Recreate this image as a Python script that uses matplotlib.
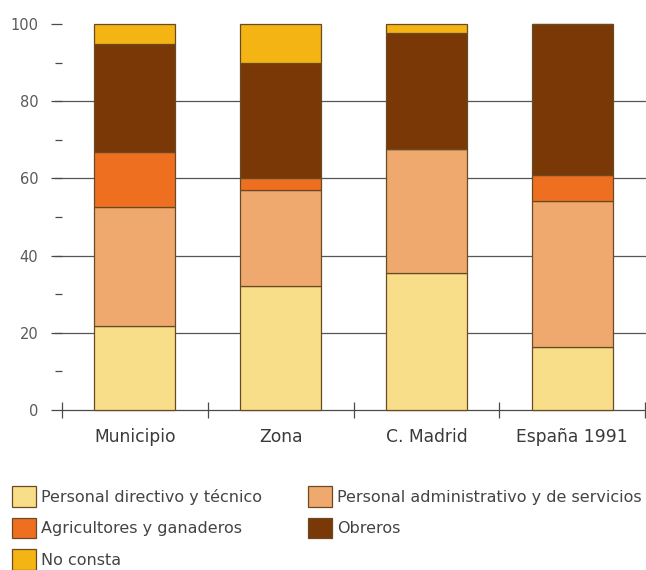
import numpy as np
import matplotlib.pyplot as plt
from matplotlib.patches import Patch

plt.rcParams["font.family"] = ["DejaVu Sans"]

# datos (% de la poblacion ocupada)
categorias = ["Municipio", "Zona", "C. Madrid", "España 1991"]
directivo = [21.8, 32.0, 35.5, 16.3]
administrativo = [30.8, 25.0, 32.0, 37.8]
agricultores = [14.2, 3.0, 0.2, 6.8]
obreros = [28.0, 30.0, 30.0, 39.1]
no_consta = [5.2, 10.0, 2.3, 0.0]

series = [
    ("Personal directivo y técnico", directivo, "#f9de8a"),
    ("Personal administrativo y de servicios", administrativo, "#efa96f"),
    ("Agricultores y ganaderos", agricultores, "#ee6f20"),
    ("Obreros", obreros, "#7a3806"),
    ("No consta", no_consta, "#f4b414"),
]

borde = "#6a4a22"
gris = "#4a4a4a"

fig = plt.figure(figsize=(6.46, 5.70), dpi=100)
ax = fig.add_axes([62 / 646, 1 - 410 / 570, 583 / 646, 386 / 570])

x = np.arange(len(categorias))
base = np.zeros(len(categorias))
for nombre, vals, color in series:
    ax.bar(x, vals, width=0.555, bottom=base, color=color, edgecolor=borde,
           linewidth=0.9, zorder=3, clip_on=False)
    base += np.array(vals)

# lineas horizontales de referencia
for v in [20, 40, 60, 80]:
    ax.axhline(v, color="#555555", linewidth=0.9, zorder=1, xmin=-0.012, clip_on=False)

ax.set_xlim(-0.5, 3.5)
ax.set_ylim(0, 100)

for s in ["top", "right", "left"]:
    ax.spines[s].set_visible(False)
ax.spines["bottom"].set_color(gris)
ax.spines["bottom"].set_linewidth(0.9)

ax.set_yticks([0, 20, 40, 60, 80, 100])
ax.set_yticks([10, 30, 50, 70, 90], minor=True)
ax.tick_params(axis="y", which="major", length=8, width=0.9, color=gris,
               labelsize=10.5, labelcolor="#5a5a5a", pad=9)
ax.tick_params(axis="y", which="minor", length=5, width=0.9, color=gris, pad=9)

# separadores en el eje x y etiquetas de categoria
ax.set_xticks([-0.5, 0.5, 1.5, 2.5, 3.5])
ax.set_xticklabels([])
ax.set_xticks(x, minor=True)
ax.set_xticklabels(categorias, minor=True)
ax.tick_params(axis="x", which="major", direction="inout", length=12, width=0.9, color=gris)
ax.tick_params(axis="x", which="minor", length=0, labelsize=12.3, labelcolor="#3a3a3a", pad=13)

orden = [0, 2, 4, 1, 3]
handles = [Patch(facecolor=series[i][2], edgecolor=borde, linewidth=0.9) for i in orden]
labels = [series[i][0] for i in orden]
fig.legend(handles, labels, loc="upper left", bbox_to_anchor=(6 / 646, 1 - 480 / 570),
           ncol=2, frameon=False, fontsize=11.5, handlelength=1.5, handleheight=1.6,
           handletextpad=0.3, labelspacing=0.68, columnspacing=2.9, borderaxespad=0,
           labelcolor="#444444")

fig.savefig("out.png", dpi=100)
